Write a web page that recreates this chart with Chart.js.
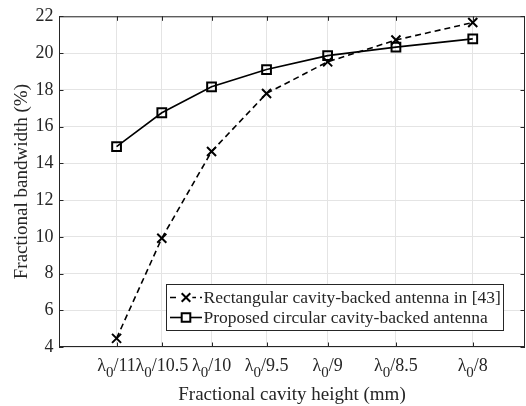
<!DOCTYPE html>
<html>
<head>
<meta charset="utf-8">
<script src="https://cdn.jsdelivr.net/npm/chart.js@4.4.0/dist/chart.umd.min.js"></script>
<style>
  html, body { margin: 0; padding: 0; background: #fff; }
  #wrap { width: 526px; height: 406px; }
</style>
</head>
<body>
<div id="wrap"><canvas id="chart" width="526" height="406"></canvas></div>
<script>
// cavity height = lambda0 / n
const heights = [11, 10.5, 10, 9.5, 9, 8.5, 8];
const tickLabels = ["11", "10.5", "10", "9.5", "9", "8.5", "8"];
const rectBW = [4.47, 9.92, 14.64, 17.8, 19.52, 20.71, 21.66];
const circBW = [14.91, 16.75, 18.16, 19.1, 19.86, 20.32, 20.77];
const seriesNames = ["Rectangular cavity-backed antenna in [43]", "Proposed circular cavity-backed antenna"];

const SERIF = "'Liberation Serif', 'Times New Roman', serif";
const INK = "#262626";
const GRID = "#e4e4e4";

const toPts = vals => vals.map((v, i) => ({ x: 1 / heights[i], y: v }));

// box, inward ticks, x labels with subscript, legend
const decor = {
  id: "decor",
  afterDraw(chart) {
    const ctx = chart.ctx;
    const a = chart.chartArea;
    const xs = chart.scales.x, ys = chart.scales.y;
    ctx.save();
    ctx.strokeStyle = INK;
    ctx.lineWidth = 1;
    ctx.strokeRect(a.left + 0.5, a.top + 0.5, a.right - a.left - 1, a.bottom - a.top - 1);

    const tl = 4.5;
    ctx.beginPath();
    heights.forEach(h => {
      const px = Math.round(xs.getPixelForValue(1 / h)) + 0.5;
      ctx.moveTo(px, a.bottom); ctx.lineTo(px, a.bottom - tl);
      ctx.moveTo(px, a.top); ctx.lineTo(px, a.top + tl);
    });
    ys.ticks.forEach(t => {
      const py = Math.round(ys.getPixelForValue(t.value)) + 0.5;
      ctx.moveTo(a.left, py); ctx.lineTo(a.left + tl, py);
      ctx.moveTo(a.right, py); ctx.lineTo(a.right - tl, py);
    });
    ctx.stroke();

    // x tick labels: λ0/n
    ctx.fillStyle = INK;
    ctx.textBaseline = "alphabetic";
    ctx.textAlign = "left";
    const big = "18px " + SERIF, small = "15px " + SERIF;
    const base = a.bottom + 23.5;
    heights.forEach((h, i) => {
      const px = xs.getPixelForValue(1 / h);
      ctx.font = big;
      const w1 = ctx.measureText("\u03bb").width;
      const w3 = ctx.measureText("/" + tickLabels[i]).width;
      ctx.font = small;
      const w2 = ctx.measureText("0").width;
      let x0 = px - (w1 + w2 + w3) / 2;
      ctx.font = big;
      ctx.fillText("\u03bb", x0, base);
      ctx.font = small;
      ctx.fillText("0", x0 + w1, base + 6.5);
      ctx.font = big;
      ctx.fillText("/" + tickLabels[i], x0 + w1 + w2, base);
    });

    // legend
    const lx = 166.5, ly = 284.5, lw = 337, lh = 46;
    ctx.fillStyle = "#fff";
    ctx.fillRect(lx, ly, lw, lh);
    ctx.strokeStyle = INK;
    ctx.lineWidth = 1;
    ctx.strokeRect(lx, ly, lw, lh);
    const rows = [ly + 13, ly + 33];
    chart.data.datasets.forEach((ds, i) => {
      const cy = rows[i];
      ctx.strokeStyle = ds.borderColor;
      ctx.lineWidth = ds.borderWidth;
      ctx.setLineDash(ds.borderDash || []);
      ctx.beginPath();
      ctx.moveTo(lx + 3.5, cy); ctx.lineTo(lx + 35.5, cy);
      ctx.stroke();
      ctx.setLineDash([]);
      const mx = lx + 19.5, r = 4.3;
      ctx.lineWidth = ds.pointBorderWidth;
      ctx.beginPath();
      if (ds.pointStyle === "crossRot") {
        ctx.fillStyle = "#fff";
        ctx.fillRect(mx - r - 2, cy - 2, 2 * r + 4, 4);
        ctx.moveTo(mx - r, cy - r); ctx.lineTo(mx + r, cy + r);
        ctx.moveTo(mx - r, cy + r); ctx.lineTo(mx + r, cy - r);
      } else {
        ctx.rect(mx - r, cy - r, 2 * r, 2 * r);
        ctx.fillStyle = "#fff"; ctx.fill();
      }
      ctx.stroke();
      ctx.fillStyle = INK;
      ctx.font = "17.5px " + SERIF;
      ctx.textBaseline = "middle";
      ctx.fillText(seriesNames[i], lx + 37, cy + 1);
    });
    ctx.restore();
  }
};

new Chart(document.getElementById("chart"), {
  type: "line",
  data: {
    datasets: [
      {
        label: seriesNames[0], data: toPts(rectBW),
        borderColor: "#000", borderWidth: 1.6, borderDash: [6, 4],
        pointStyle: "crossRot", pointRadius: 6.4, pointBorderWidth: 2,
        pointBorderColor: "#000", pointBackgroundColor: "transparent", fill: false
      },
      {
        label: seriesNames[1], data: toPts(circBW),
        borderColor: "#000", borderWidth: 1.6,
        pointStyle: "rect", pointRadius: 6.2, pointBorderWidth: 2,
        pointBorderColor: "#000", pointBackgroundColor: "transparent", fill: false
      }
    ]
  },
  options: {
    responsive: false,
    animation: false,
    layout: { autoPadding: false, padding: { top: 11, right: 1, left: 0, bottom: 0 } },
    plugins: { legend: { display: false }, tooltip: { enabled: false } },
    scales: {
      x: {
        type: "linear", min: 0.0854, max: 0.1300,
        afterBuildTicks: s => { s.ticks = heights.map(h => ({ value: 1 / h })); },
        afterFit: s => { s.height = 59; },
        ticks: { display: false },
        grid: { color: GRID, drawTicks: false },
        border: { display: false },
        title: {
          display: true, text: "Fractional cavity height (mm)",
          color: INK, font: { family: SERIF, size: 19 }, padding: { top: 0, bottom: 0 }
        }
      },
      y: {
        min: 4, max: 22,
        afterFit: s => { s.width = 59; },
        ticks: { stepSize: 2, color: INK, font: { family: SERIF, size: 18 }, padding: 5.5 },
        grid: { color: GRID, drawTicks: false },
        border: { display: false },
        title: {
          display: true, text: "Fractional bandwidth (%)",
          color: INK, font: { family: SERIF, size: 19 }, padding: { top: 11, bottom: 0 }
        }
      }
    }
  },
  plugins: [decor]
});
</script>
</body>
</html>
